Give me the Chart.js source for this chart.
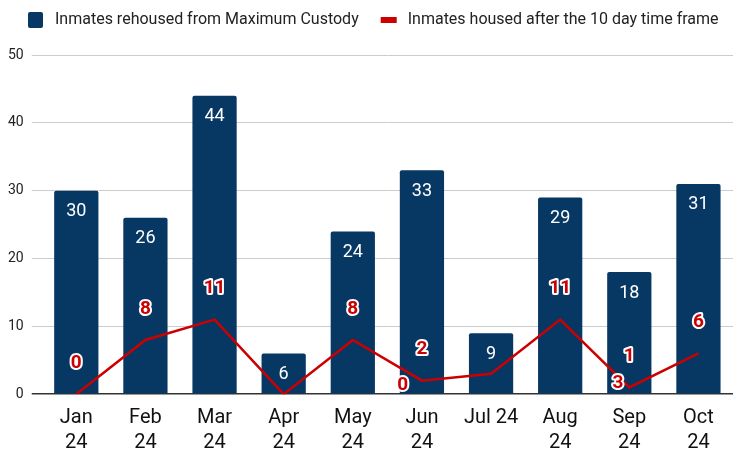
<!DOCTYPE html>
<html>
<head>
<meta charset="utf-8">
<script src="https://cdn.jsdelivr.net/npm/chart.js@4.4.0/dist/chart.umd.min.js"></script>
<style>
  body { margin: 0; background: #fff; }
  #wrap { width: 738px; height: 451px; }
</style>
</head>
<body>
<div id="wrap"><canvas id="mainChart" width="738" height="451"></canvas></div>
<script>
// data
var months = [["Jan", "24"], ["Feb", "24"], ["Mar", "24"], ["Apr", "24"], ["May", "24"],
              ["Jun", "24"], ["Jul 24"], ["Aug", "24"], ["Sep", "24"], ["Oct", "24"]];
var maxCustody = [30, 26, 44, 6, 24, 33, 9, 29, 18, 31];
var lateHoused = [0, 8, 11, 0, 8, 2, 3, 11, 1, 6];
var yTicks = [0, 10, 20, 30, 40, 50];

var navy = '#073763';
var red = '#cc0000';
var fontFam = 'Roboto, "Liberation Sans", Arial, sans-serif';

// a couple of the line labels got pushed sideways in the original (collision avoidance)
var labelShift = { 3: [119, 22], 6: [127, 40] };

var valueLabels = {
    id: 'valueLabels',
    afterDatasetsDraw: function (chart) {
        var ctx = chart.ctx;
        ctx.save();
        ctx.textAlign = 'center';
        ctx.textBaseline = 'middle';

        // white numbers inside the bars
        ctx.font = '18px ' + fontFam;
        ctx.fillStyle = '#ffffff';
        chart.getDatasetMeta(0).data.forEach(function (bar, i) {
            ctx.fillText(String(maxCustody[i]), bar.x, bar.y + 21);
        });

        // red outlined numbers above the line
        ctx.font = 'bold 19px ' + fontFam;
        ctx.lineJoin = 'round';
        chart.getDatasetMeta(1).data.forEach(function (pt, i) {
            var s = labelShift[i] || [0, 0];
            var x = pt.x + s[0], y = pt.y - 31 + s[1];
            ctx.lineWidth = 4;
            ctx.strokeStyle = '#ffffff';
            ctx.strokeText(String(lateHoused[i]), x, y);
            ctx.fillStyle = red;
            ctx.fillText(String(lateHoused[i]), x, y);
        });
        ctx.restore();
    }
};

// legend drawn by hand so the spacing matches the sheets chart
var topLegend = {
    id: 'topLegend',
    afterDraw: function (chart) {
        var ctx = chart.ctx;
        var ds = chart.data.datasets;
        var cy = 20;
        ctx.save();
        ctx.font = '16px ' + fontFam;
        ctx.textBaseline = 'middle';

        var x = 28;
        ctx.fillStyle = ds[0].backgroundColor;
        ctx.beginPath();
        ctx.roundRect(x, cy - 8, 15, 16, 2);
        ctx.fill();
        x += 27;
        ctx.fillStyle = '#222';
        ctx.fillText(ds[0].label, x, cy);
        x += ctx.measureText(ds[0].label).width + 22;

        ctx.fillStyle = ds[1].borderColor;
        ctx.fillRect(x, cy - 3, 16, 6);
        x += 27;
        ctx.fillStyle = '#222';
        ctx.fillText(ds[1].label, x, cy);
        ctx.restore();
    }
};

var ctx = document.getElementById('mainChart').getContext('2d');
var mainChart = new Chart(ctx, {
    type: 'bar',
    data: {
        labels: months,
        datasets: [{
            type: 'bar',
            label: 'Inmates rehoused from Maximum Custody',
            data: maxCustody,
            backgroundColor: navy,
            borderRadius: 2,
            barPercentage: 0.64,
            categoryPercentage: 1,
            order: 2
        }, {
            type: 'line',
            label: 'Inmates housed after the 10 day time frame',
            data: lateHoused,
            borderColor: red,
            backgroundColor: red,
            borderWidth: 2.5,
            pointRadius: 0,
            tension: 0,
            order: 1
        }]
    },
    options: {
        responsive: false,
        animation: false,
        layout: { padding: { left: 0, right: 5, top: 55, bottom: -8 } },
        plugins: {
            tooltip: { enabled: false },
            legend: { display: false }
        },
        scales: {
            x: {
                grid: { display: false },
                border: { display: false },
                ticks: {
                    color: '#111',
                    font: { family: fontFam, size: 20, lineHeight: 1.22 },
                    padding: 4,
                    maxRotation: 0,
                    autoSkip: false
                }
            },
            y: {
                min: 0,
                max: 50,
                afterBuildTicks: function (axis) {
                    axis.ticks = yTicks.map(function (v) { return { value: v }; });
                },
                border: { display: false },
                grid: {
                    color: function (c) { return c.tick && c.tick.value === 0 ? '#333' : '#cccccc'; },
                    lineWidth: function (c) { return c.tick && c.tick.value === 0 ? 1.5 : 1; },
                    tickLength: 10
                },
                ticks: {
                    color: '#222',
                    font: { family: fontFam, size: 14 },
                    padding: 8
                }
            }
        }
    },
    plugins: [valueLabels, topLegend]
});
</script>
</body>
</html>
